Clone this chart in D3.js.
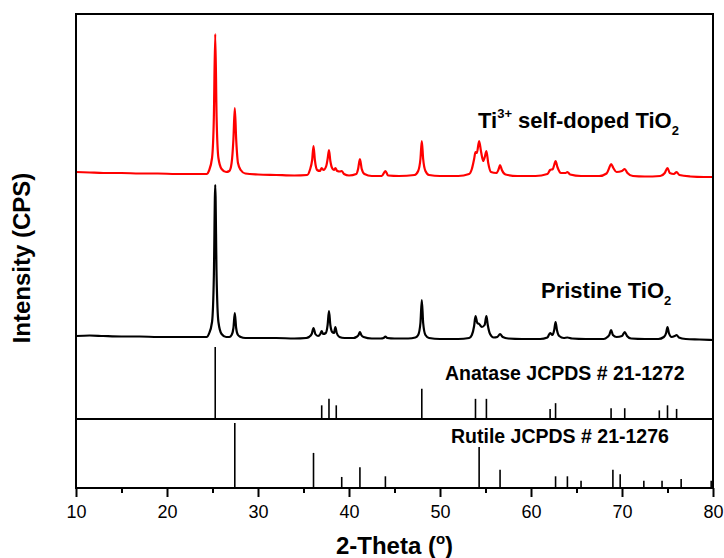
<!DOCTYPE html>
<html>
<head>
<meta charset="utf-8">
<script src="https://cdn.jsdelivr.net/npm/d3@7"></script>
<style>
  body { margin: 0; background: #fff; }
  text { font-family: "Liberation Sans", Arial, sans-serif; }
</style>
</head>
<body>
<div id="chart"></div>
<script>
/**
 * CONSTANTS AND GLOBALS
 * */
const width = 724,
  height = 558,
  margin = { top: 14, right: 11, bottom: 70, left: 76 };

const innerW = width - margin.left - margin.right,
  innerH = height - margin.top - margin.bottom;

// x ticks (2-theta, degrees)
const majorTicks = [10, 20, 30, 40, 50, 60, 70, 80];
const minorTicks = [15, 25, 35, 45, 55, 65, 75];

// measured patterns, [2theta, intensity a.u.] (already stacked)
const ti3Trace = [
  [10, 247], [11.5, 246.5], [13, 246], [15, 246], [17, 245.5], [19, 245.5], [21, 245], [23, 245], [24.4, 245],
  [24.6, 248], [24.95, 261], [25.15, 302], [25.3, 385], [25.45, 302], [25.65, 261], [26.0, 250], [26.5, 247],
  [26.85, 248], [27.1, 256], [27.3, 280], [27.45, 311], [27.6, 280], [27.8, 256], [28.1, 249], [28.6, 245.5],
  [30, 244.5], [32, 244], [34, 243.5], [35.4, 244],
  [35.7, 249], [35.95, 259], [36.1, 273], [36.25, 259], [36.5, 249], [36.8, 248], [37.0, 251], [37.2, 249],
  [37.5, 253], [37.65, 260], [37.8, 269], [37.95, 258], [38.2, 250], [38.35, 249], [38.5, 251], [38.7, 248],
  [39.0, 247.5], [39.2, 248], [39.45, 245], [40, 243.5], [40.8, 245],
  [41.0, 250], [41.2, 260], [41.4, 250], [41.7, 245], [42.5, 243], [43.6, 243], [44.0, 248], [44.3, 243.5],
  [45.5, 243], [47.2, 244],
  [47.6, 248], [47.85, 260], [48.0, 278], [48.15, 260], [48.4, 248], [48.8, 244], [50, 243], [52, 243], [53.2, 245],
  [53.5, 250], [53.75, 260], [53.9, 267], [54.05, 266], [54.3, 278], [54.5, 268], [54.75, 258], [54.95, 263],
  [55.1, 268], [55.3, 256], [55.6, 247], [56.2, 246], [56.45, 250], [56.6, 254], [56.8, 249], [57.2, 244.5],
  [58.5, 243], [60.5, 243], [61.8, 245],
  [62.1, 249], [62.4, 250], [62.55, 254], [62.7, 258], [62.9, 252], [63.3, 246], [63.8, 246], [64.0, 247],
  [64.3, 244.5], [65.5, 243], [67.5, 243], [68.3, 245.5],
  [68.55, 250], [68.8, 255], [69.05, 251], [69.4, 247], [70.0, 248], [70.3, 250], [70.6, 246], [71.2, 243],
  [72.5, 242.5], [74.2, 243], [74.7, 246], [75.0, 251], [75.25, 246], [75.7, 245], [76.0, 247], [76.3, 244],
  [77.5, 242.5], [79, 242], [80, 242]
];

const pristineTrace = [
  [10, 83], [11.5, 83.5], [13, 83], [15, 82.5], [17, 82.5], [19, 82], [21, 82], [23, 82], [24.4, 82],
  [24.6, 85], [24.95, 97], [25.15, 143], [25.3, 234], [25.45, 143], [25.65, 97], [26.0, 85], [26.5, 82],
  [26.85, 82], [27.1, 84], [27.3, 91], [27.45, 106], [27.6, 91], [27.8, 84], [28.1, 82], [28.6, 81],
  [30, 81], [32, 81], [34, 80.5], [35.3, 81],
  [35.6, 82], [35.9, 85], [36.1, 91], [36.3, 85], [36.6, 83], [36.85, 85], [37.0, 88], [37.15, 85],
  [37.45, 86], [37.65, 94], [37.8, 108], [37.95, 94], [38.15, 87], [38.35, 86], [38.5, 92], [38.65, 86],
  [38.95, 82], [39.5, 81], [40.5, 81],
  [40.8, 82], [41.05, 84], [41.2, 87], [41.35, 84], [41.6, 82], [42.5, 80.5], [43.5, 80.5],
  [43.8, 81], [44.0, 82.5], [44.2, 81], [45, 80.5], [46.5, 80.5], [47.3, 81.5],
  [47.6, 84], [47.85, 96], [48.0, 119], [48.15, 96], [48.4, 84], [48.8, 81], [50, 80], [52, 80], [53.2, 81],
  [53.5, 84], [53.75, 93], [53.9, 103], [54.1, 96], [54.3, 95], [54.6, 92], [54.9, 94], [55.1, 103],
  [55.25, 94], [55.5, 85], [55.9, 81.5], [56.3, 82], [56.6, 85], [56.9, 82], [57.5, 80.5],
  [59, 80], [61, 80], [61.8, 81.5],
  [62.1, 86], [62.35, 84], [62.55, 89], [62.7, 97], [62.85, 89], [63.1, 83], [63.6, 81], [64.0, 81.5],
  [64.5, 80.5], [66, 80], [68, 80], [68.4, 82],
  [68.6, 84], [68.8, 89], [69.0, 84], [69.4, 82], [70.0, 83], [70.3, 87], [70.55, 83], [71, 80.5],
  [72.5, 80], [74, 80], [74.6, 82], [74.85, 86], [75.0, 92], [75.15, 86], [75.45, 82], [75.8, 83],
  [76.0, 84], [76.25, 81.5], [77, 80], [78.5, 79.5], [80, 79]
];

// reference stick patterns, relative intensity
const anatasePos = [25.3, 37.0, 37.8, 38.6, 48.0, 53.9, 55.1, 62.1, 62.7, 68.8, 70.3, 74.1, 75.0, 76.0];
const anataseInt = [100, 19, 28, 19, 42, 28, 28, 14, 22, 15, 15, 12, 19, 14];

const rutilePos = [27.45, 36.1, 39.2, 41.2, 44.0, 54.3, 56.6, 62.7, 64.0, 65.5, 69.0, 69.8, 72.4, 74.4, 76.5, 79.8];
const rutileInt = [100, 54, 17, 32, 18, 63, 28, 18, 18, 11, 28, 21, 11, 11, 14, 11];

let svg;

function init() {
  svg = d3.select("#chart")
    .append("svg")
    .attr("width", width)
    .attr("height", height);

  const g = svg.append("g")
    .attr("transform", `translate(${margin.left},${margin.top})`);

  const x = d3.scaleLinear().domain([10, 80]).range([0, innerW]);

  // three stacked panels share the x scale
  const yTrace = d3.scaleLinear().domain([0, 405]).range([405, 0]);
  const yAnatase = d3.scaleLinear().domain([0, 100]).range([405, 333]);
  const yRutile = d3.scaleLinear().domain([0, 100]).range([innerH, 409]);

  const line = d3.line()
    .x(d => x(d[0]))
    .y(d => yTrace(d[1]))
    .curve(d3.curveMonotoneX);

  g.append("path")
    .datum(pristineTrace)
    .attr("fill", "none")
    .attr("stroke", "#000")
    .attr("stroke-width", 2.2)
    .attr("d", line);

  g.append("path")
    .datum(ti3Trace)
    .attr("fill", "none")
    .attr("stroke", "#ff0000")
    .attr("stroke-width", 2.2)
    .attr("d", line);

  // sticks
  g.selectAll(".anatase")
    .data(anatasePos)
    .join("line")
    .attr("class", "anatase")
    .attr("x1", d => x(d)).attr("x2", d => x(d))
    .attr("y1", yAnatase(0))
    .attr("y2", (d, i) => yAnatase(anataseInt[i]))
    .attr("stroke", "#000")
    .attr("stroke-width", 1.6);

  g.selectAll(".rutile")
    .data(rutilePos)
    .join("line")
    .attr("class", "rutile")
    .attr("x1", d => x(d)).attr("x2", d => x(d))
    .attr("y1", yRutile(0))
    .attr("y2", (d, i) => yRutile(rutileInt[i]))
    .attr("stroke", "#000")
    .attr("stroke-width", 1.6);

  // separator between the two reference panels
  g.append("line")
    .attr("x1", 0).attr("x2", innerW)
    .attr("y1", yAnatase(0)).attr("y2", yAnatase(0))
    .attr("stroke", "#000")
    .attr("stroke-width", 2);

  // frame
  g.append("rect")
    .attr("width", innerW)
    .attr("height", innerH)
    .attr("fill", "none")
    .attr("stroke", "#000")
    .attr("stroke-width", 2);

  // x axis
  const xAxis = g.append("g")
    .attr("transform", `translate(0,${innerH})`)
    .call(d3.axisBottom(x).tickValues(majorTicks).tickSize(9).tickSizeOuter(0).tickPadding(8));
  xAxis.select(".domain").remove();
  xAxis.selectAll(".tick line").attr("stroke-width", 2);
  xAxis.selectAll(".tick text")
    .attr("font-size", 18)
    .attr("fill", "#000");

  g.append("g")
    .attr("transform", `translate(0,${innerH})`)
    .call(d3.axisBottom(x).tickValues(minorTicks).tickSize(5).tickFormat(""))
    .call(a => a.select(".domain").remove())
    .selectAll(".tick line").attr("stroke-width", 2);

  // axis titles
  const xt = svg.append("text")
    .attr("x", margin.left + innerW / 2)
    .attr("y", 554)
    .attr("text-anchor", "middle")
    .attr("font-size", 24)
    .attr("font-weight", "bold");
  xt.append("tspan").text("2-Theta (");
  xt.append("tspan").attr("font-size", 15).attr("dy", -10).text("o");
  xt.append("tspan").attr("dy", 10).text(")");

  svg.append("text")
    .attr("transform", `translate(30,${margin.top + 244}) rotate(-90)`)
    .attr("text-anchor", "middle")
    .attr("font-size", 24)
    .attr("font-weight", "bold")
    .text("Intensity (CPS)");

  // curve labels
  const t1 = g.append("text")
    .attr("x", 402).attr("y", 114)
    .attr("font-size", 22)
    .attr("font-weight", "bold");
  t1.append("tspan").text("Ti");
  t1.append("tspan").attr("font-size", 13).attr("dy", -10).text("3+");
  t1.append("tspan").attr("dy", 10).text(" self-doped TiO");
  t1.append("tspan").attr("font-size", 13).attr("dy", 7).text("2");

  const t2 = g.append("text")
    .attr("x", 465).attr("y", 284)
    .attr("font-size", 22)
    .attr("font-weight", "bold");
  t2.append("tspan").text("Pristine TiO");
  t2.append("tspan").attr("font-size", 13).attr("dy", 7).text("2");

  g.append("text")
    .attr("x", 369).attr("y", 366)
    .attr("font-size", 19.5)
    .attr("font-weight", "bold")
    .text("Anatase JCPDS # 21-1272");

  g.append("text")
    .attr("x", 375).attr("y", 429)
    .attr("font-size", 19.5)
    .attr("font-weight", "bold")
    .text("Rutile JCPDS # 21-1276");
}

init();
</script>
</body>
</html>
